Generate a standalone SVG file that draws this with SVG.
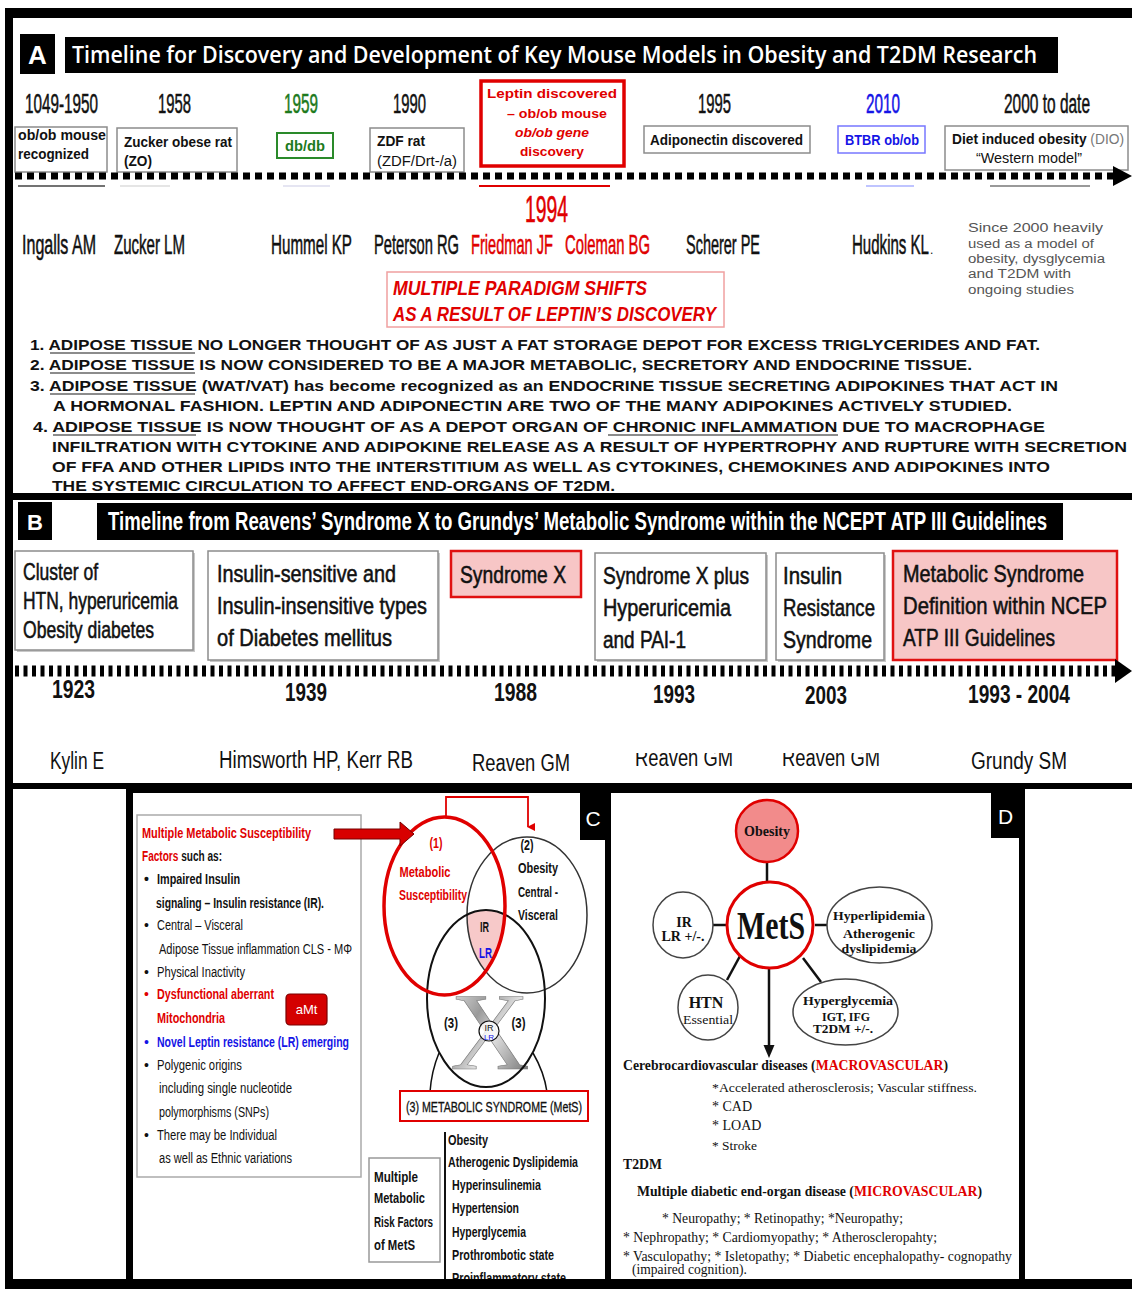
<svg xmlns="http://www.w3.org/2000/svg" width="1132" height="1289" viewBox="0 0 1132 1289">
<defs>
<style>
text{font-family:"Liberation Sans",Arial,sans-serif;fill:#111}
.b{font-weight:bold}
.i{font-style:italic}
.sf{font-family:"Liberation Serif","Times New Roman",serif}
.os{font-family:"Open Sans","Liberation Sans",sans-serif}
.w{fill:#fff}
.red{fill:#e00000}
.blue{fill:#1414e6}
.grn{fill:#1d7a1d}
.gry{fill:#555}
.thk{stroke:#111;stroke-width:0.55}
.thk.red{stroke:#e00000}
.thk.grn{stroke:#1d7a1d}
.thk.blue{stroke:#1414e6}
.box{fill:#fff;stroke:#8c8c8c;stroke-width:1.5}
.shd{fill:#c8c8c8}
.pk{fill:#f7c6c6;stroke:#e01010;stroke-width:2.5}
.frame{fill:#000}
.ul{stroke:#666;stroke-width:1.5}
.conn{fill:none;stroke:#111;stroke-width:2.5}
</style>
<linearGradient id="xg" x1="0" y1="0" x2="1" y2="1">
<stop offset="0" stop-color="#f2f2f2"/>
<stop offset="0.35" stop-color="#9a9a9a"/>
<stop offset="0.55" stop-color="#e0e0e0"/>
<stop offset="1" stop-color="#5a5a5a"/>
</linearGradient>
<marker id="ra" markerWidth="8" markerHeight="8" refX="4" refY="7" orient="auto-start-reverse" markerUnits="userSpaceOnUse" viewBox="0 0 8 8">
<path d="M0,0 L8,0 L4,8 Z" fill="#e00000"/>
</marker>
<clipPath id="cRed"><ellipse cx="444.5" cy="906" rx="60.5" ry="89"/></clipPath>
<clipPath id="c2"><ellipse cx="527" cy="915" rx="60" ry="78"/></clipPath>
<clipPath id="clipRv"><rect x="600" y="753" width="300" height="30"/></clipPath>
</defs>
<rect width="1132" height="1289" fill="#fff"/>

<!-- frame -->
<g id="frame">
<rect class="frame" x="5" y="8" width="1127" height="10"/>
<rect class="frame" x="5" y="8" width="8" height="1281"/>
<rect class="frame" x="5" y="493" width="1127" height="7"/>
<rect class="frame" x="5" y="783" width="1127" height="6"/>
<rect class="frame" x="126" y="783" width="899" height="10"/>
<rect class="frame" x="5" y="1279" width="1127" height="10"/>
<rect class="frame" x="126" y="783" width="7" height="506"/>
<rect class="frame" x="605" y="783" width="6" height="506"/>
<rect class="frame" x="1019" y="783" width="6" height="506"/>
</g>

<!-- PANEL A -->
<g id="A-header">
<rect x="20" y="34" width="35" height="40" fill="#000"/>
<text x="37.5" y="64" text-anchor="middle" font-size="26" class="b w">A</text>
<rect x="65" y="37" width="993" height="36" fill="#000"/>
<text x="72" y="63" font-size="23" class="os w" font-weight="600" textLength="965" lengthAdjust="spacingAndGlyphs">Timeline for Discovery and Development of Key Mouse Models in Obesity and T2DM Research</text>
</g>

<g id="A-years" font-size="28">
<text x="25" y="113" class="thk" textLength="73" lengthAdjust="spacingAndGlyphs">1049-1950</text>
<text x="158" y="113" class="thk" textLength="33" lengthAdjust="spacingAndGlyphs">1958</text>
<text x="284" y="113" class="thk grn" textLength="34" lengthAdjust="spacingAndGlyphs">1959</text>
<text x="393" y="113" class="thk" textLength="33" lengthAdjust="spacingAndGlyphs">1990</text>
<text x="698" y="113" class="thk" textLength="33" lengthAdjust="spacingAndGlyphs">1995</text>
<text x="866" y="113" class="thk blue" textLength="34" lengthAdjust="spacingAndGlyphs">2010</text>
<text x="1004" y="113" class="thk" textLength="86" lengthAdjust="spacingAndGlyphs">2000 to date</text>
</g>

<g id="A-obob">
<rect class="box" x="15" y="127" width="92" height="45"/>
<text x="18" y="140" font-size="14" class="b" fill="#333" textLength="88" lengthAdjust="spacingAndGlyphs">ob/ob mouse</text>
<text x="18" y="159" font-size="14" class="b" fill="#333" textLength="71" lengthAdjust="spacingAndGlyphs">recognized</text>
</g>
<g id="A-zucker">
<rect class="box" x="117" y="128" width="120" height="44"/>
<text x="124" y="147" font-size="14" class="b" fill="#333" textLength="108" lengthAdjust="spacingAndGlyphs">Zucker obese rat</text>
<text x="124" y="166" font-size="14" class="b" fill="#333" textLength="28" lengthAdjust="spacingAndGlyphs">(ZO)</text>
</g>
<g id="A-dbdb">
<rect x="277" y="133" width="56" height="25" fill="#fff" stroke="#2a8a2a" stroke-width="2"/>
<text x="285" y="151" font-size="14" class="b grn" textLength="40" lengthAdjust="spacingAndGlyphs">db/db</text>
</g>
<g id="A-zdf">
<rect class="box" x="370" y="128" width="94" height="44"/>
<text x="377" y="146" font-size="14" class="b" fill="#333" textLength="48" lengthAdjust="spacingAndGlyphs">ZDF rat</text>
<text x="377" y="166" font-size="14" fill="#777" textLength="80" lengthAdjust="spacingAndGlyphs">(ZDF/Drt-/a)</text>
</g>
<g id="A-leptin">
<rect x="481" y="81" width="143" height="85" fill="#fff" stroke="#e00000" stroke-width="3.5"/>
<text x="552" y="98" text-anchor="middle" font-size="13.5" class="b red" textLength="130" lengthAdjust="spacingAndGlyphs">Leptin discovered</text>
<text x="557" y="118" text-anchor="middle" font-size="13.5" class="b red" textLength="100" lengthAdjust="spacingAndGlyphs">– ob/ob mouse</text>
<text x="552" y="137" text-anchor="middle" font-size="13.5" class="b i red" textLength="74" lengthAdjust="spacingAndGlyphs">ob/ob gene</text>
<text x="552" y="156" text-anchor="middle" font-size="13.5" class="b red" textLength="64" lengthAdjust="spacingAndGlyphs">discovery</text>
</g>
<g id="A-adipo">
<rect class="box" x="644" y="126" width="166" height="27"/>
<text x="650" y="145" font-size="14" class="b" fill="#333" textLength="153" lengthAdjust="spacingAndGlyphs">Adiponectin discovered</text>
</g>
<g id="A-btbr">
<rect x="838" y="126" width="87" height="27" fill="#fff" stroke="#7777ff" stroke-width="1.5"/>
<text x="845" y="145" font-size="14" class="b blue" textLength="74" lengthAdjust="spacingAndGlyphs">BTBR ob/ob</text>
</g>
<g id="A-dio">
<rect class="box" x="945" y="126" width="183" height="44"/>
<text x="952" y="144" font-size="14" class="b" fill="#333" textLength="172" lengthAdjust="spacingAndGlyphs">Diet induced obesity<tspan font-weight="normal" fill="#777"> (DIO)</tspan></text>
<text x="976" y="163" font-size="14" fill="#666" textLength="106" lengthAdjust="spacingAndGlyphs">“Western model”</text>
</g>

<g id="A-timeline">
<line x1="15" y1="176" x2="1114" y2="176" stroke="#000" stroke-width="7" stroke-dasharray="7 5"/>
<path d="M1113,166 L1132,176 L1113,186 Z" fill="#000"/>
<line x1="18" y1="186" x2="105" y2="186" stroke="#444" stroke-width="1.5"/>
<line x1="120" y1="186" x2="170" y2="186" stroke="#ddd" stroke-width="1.5"/>
<line x1="283" y1="186" x2="330" y2="186" stroke="#dde" stroke-width="1.5"/>
<line x1="479" y1="186" x2="610" y2="186" stroke="#e00000" stroke-width="2"/>
<line x1="866" y1="186" x2="914" y2="186" stroke="#aab0ff" stroke-width="1.5"/>
<line x1="990" y1="186" x2="1090" y2="186" stroke="#777" stroke-width="1.5"/>
</g>

<g id="A-names" font-size="28">
<text x="525" y="222" font-size="36" class="thk red" textLength="43" lengthAdjust="spacingAndGlyphs">1994</text>
<text x="22" y="254" class="thk" textLength="74" lengthAdjust="spacingAndGlyphs">Ingalls AM</text>
<text x="114" y="254" class="thk" textLength="71" lengthAdjust="spacingAndGlyphs">Zucker LM</text>
<text x="271" y="254" class="thk" textLength="81" lengthAdjust="spacingAndGlyphs">Hummel KP</text>
<text x="374" y="254" class="thk" textLength="85" lengthAdjust="spacingAndGlyphs">Peterson RG</text>
<text x="471" y="254" class="thk red" textLength="82" lengthAdjust="spacingAndGlyphs">Friedman JF</text>
<text x="565" y="254" class="thk red" textLength="85" lengthAdjust="spacingAndGlyphs">Coleman BG</text>
<text x="686" y="254" class="thk" textLength="74" lengthAdjust="spacingAndGlyphs">Scherer PE</text>
<text x="852" y="254" class="thk" textLength="77" lengthAdjust="spacingAndGlyphs">Hudkins KL</text>
<text x="930" y="254" font-size="12" fill="#aaa">.</text>
</g>

<g id="A-since" font-size="12.5">
<text x="968" y="232" class="gry" textLength="135" lengthAdjust="spacingAndGlyphs">Since 2000 heavily</text>
<text x="968" y="248" class="gry" textLength="126" lengthAdjust="spacingAndGlyphs">used as a model of</text>
<text x="968" y="263" class="gry" textLength="137" lengthAdjust="spacingAndGlyphs">obesity, dysglycemia</text>
<text x="968" y="278" class="gry" textLength="103" lengthAdjust="spacingAndGlyphs">and T2DM with</text>
<text x="968" y="294" class="gry" textLength="106" lengthAdjust="spacingAndGlyphs">ongoing studies</text>
</g>

<g id="A-paradigm">
<rect x="387" y="272" width="337" height="55" fill="#fff" stroke="#f0a0a0" stroke-width="1.5"/>
<text x="393" y="295" font-size="20" class="b i red" textLength="254" lengthAdjust="spacingAndGlyphs">MULTIPLE PARADIGM SHIFTS</text>
<text x="393" y="321" font-size="20" class="b i red" textLength="323" lengthAdjust="spacingAndGlyphs">AS A RESULT OF LEPTIN’S DISCOVERY</text>
</g>

<g id="A-list" font-size="15">
<text x="30" y="350" class="b" fill="#1a1a1a" textLength="1010" lengthAdjust="spacingAndGlyphs">1. ADIPOSE TISSUE NO LONGER THOUGHT OF AS JUST  A FAT STORAGE DEPOT FOR EXCESS TRIGLYCERIDES AND FAT.</text>
<text x="30" y="370" class="b" fill="#1a1a1a" textLength="942" lengthAdjust="spacingAndGlyphs">2. ADIPOSE TISSUE IS NOW CONSIDERED TO BE A MAJOR METABOLIC, SECRETORY AND ENDOCRINE TISSUE.</text>
<text x="30" y="391" class="b" fill="#1a1a1a" textLength="1028" lengthAdjust="spacingAndGlyphs">3. ADIPOSE TISSUE (WAT/VAT) has become recognized as an ENDOCRINE TISSUE SECRETING ADIPOKINES THAT ACT IN</text>
<text x="53" y="411" class="b" fill="#1a1a1a" textLength="959" lengthAdjust="spacingAndGlyphs">A HORMONAL FASHION. LEPTIN AND ADIPONECTIN ARE TWO OF THE MANY ADIPOKINES ACTIVELY STUDIED.</text>
<text x="33" y="432" class="b" fill="#1a1a1a" textLength="1012" lengthAdjust="spacingAndGlyphs">4. ADIPOSE TISSUE IS NOW THOUGHT OF AS A DEPOT ORGAN OF CHRONIC INFLAMMATION DUE TO MACROPHAGE</text>
<text x="52" y="452" class="b" fill="#1a1a1a" textLength="1075" lengthAdjust="spacingAndGlyphs">INFILTRATION  WITH CYTOKINE AND ADIPOKINE RELEASE AS A  RESULT OF HYPERTROPHY AND RUPTURE WITH SECRETION</text>
<text x="52" y="472" class="b" fill="#1a1a1a" textLength="998" lengthAdjust="spacingAndGlyphs">OF FFA AND OTHER LIPIDS INTO THE INTERSTITIUM AS WELL AS CYTOKINES, CHEMOKINES AND ADIPOKINES INTO</text>
<text x="52" y="491" class="b" fill="#1a1a1a" textLength="563" lengthAdjust="spacingAndGlyphs">THE SYSTEMIC CIRCULATION TO AFFECT END-ORGANS OF T2DM.</text>
<line class="ul" x1="50" y1="353" x2="195" y2="353"/>
<line class="ul" x1="50" y1="373" x2="195" y2="373"/>
<line class="ul" x1="50" y1="394" x2="195" y2="394"/>
<line class="ul" x1="53" y1="435" x2="196" y2="435"/>
<line class="ul" x1="608" y1="435" x2="838" y2="435"/>
</g>

<!-- PANEL B -->
<g id="B-header">
<rect x="18" y="502" width="34" height="38" fill="#000"/>
<text x="35" y="530" text-anchor="middle" font-size="22" class="b w">B</text>
<rect x="97" y="503" width="966" height="37" fill="#000"/>
<text x="108" y="530" font-size="25" class="b w" textLength="939" lengthAdjust="spacingAndGlyphs">Timeline from Reavens’  Syndrome X  to Grundys’  Metabolic Syndrome within the NCEPT ATP III Guidelines</text>
</g>

<g id="B-cluster" font-size="24">
<rect class="shd" x="17" y="553" width="178" height="99"/>
<rect class="box" x="15" y="551" width="178" height="99"/>
<text x="23" y="580" class="thk" textLength="75" lengthAdjust="spacingAndGlyphs">Cluster of</text>
<text x="23" y="609" class="thk" textLength="155" lengthAdjust="spacingAndGlyphs">HTN, hyperuricemia</text>
<text x="23" y="638" class="thk" textLength="131" lengthAdjust="spacingAndGlyphs">Obesity diabetes</text>
</g>
<g id="B-insulin" font-size="24">
<rect class="shd" x="210" y="553" width="230" height="109"/>
<rect class="box" x="208" y="551" width="230" height="109"/>
<text x="217" y="582" class="thk" textLength="179" lengthAdjust="spacingAndGlyphs">Insulin-sensitive and</text>
<text x="217" y="614" class="thk" textLength="210" lengthAdjust="spacingAndGlyphs">Insulin-insensitive types</text>
<text x="217" y="646" class="thk" textLength="175" lengthAdjust="spacingAndGlyphs">of Diabetes mellitus</text>
</g>
<g id="B-synx" font-size="24">
<rect class="pk" x="451" y="551" width="130" height="46"/>
<text x="460" y="583" class="thk" textLength="106" lengthAdjust="spacingAndGlyphs">Syndrome X</text>
</g>
<g id="B-synxplus" font-size="24">
<rect class="shd" x="597" y="555" width="171" height="107"/>
<rect class="box" x="595" y="553" width="171" height="107"/>
<text x="603" y="584" class="thk" textLength="146" lengthAdjust="spacingAndGlyphs">Syndrome X plus</text>
<text x="603" y="616" class="thk" textLength="128" lengthAdjust="spacingAndGlyphs">Hyperuricemia</text>
<text x="603" y="648" class="thk" textLength="83" lengthAdjust="spacingAndGlyphs">and PAI-1</text>
</g>
<g id="B-irs" font-size="24">
<rect class="shd" x="778" y="555" width="108" height="107"/>
<rect class="box" x="776" y="553" width="108" height="107"/>
<text x="783" y="584" class="thk" textLength="59" lengthAdjust="spacingAndGlyphs">Insulin</text>
<text x="783" y="616" class="thk" textLength="92" lengthAdjust="spacingAndGlyphs">Resistance</text>
<text x="783" y="648" class="thk" textLength="89" lengthAdjust="spacingAndGlyphs">Syndrome</text>
</g>
<g id="B-mets" font-size="24">
<rect class="pk" x="893" y="551" width="224" height="109"/>
<text x="903" y="582" class="thk" textLength="181" lengthAdjust="spacingAndGlyphs">Metabolic Syndrome</text>
<text x="903" y="614" class="thk" textLength="204" lengthAdjust="spacingAndGlyphs">Definition within  NCEP</text>
<text x="903" y="646" class="thk" textLength="152" lengthAdjust="spacingAndGlyphs">ATP III Guidelines</text>
</g>

<g id="B-timeline">
<line x1="15" y1="671" x2="1115" y2="671" stroke="#000" stroke-width="11" stroke-dasharray="4 4.5"/>
<path d="M1115,659 L1132,671 L1115,683 Z" fill="#000"/>
</g>

<g id="B-years" font-size="25">
<text x="52" y="698" class="b" textLength="43" lengthAdjust="spacingAndGlyphs">1923</text>
<text x="285" y="701" class="b" textLength="42" lengthAdjust="spacingAndGlyphs">1939</text>
<text x="494" y="701" class="b" textLength="43" lengthAdjust="spacingAndGlyphs">1988</text>
<text x="653" y="703" class="b" textLength="42" lengthAdjust="spacingAndGlyphs">1993</text>
<text x="805" y="704" class="b" textLength="42" lengthAdjust="spacingAndGlyphs">2003</text>
<text x="968" y="703" class="b" textLength="102" lengthAdjust="spacingAndGlyphs">1993 - 2004</text>
</g>

<g id="B-names" font-size="23">
<text x="50" y="769" fill="#333" textLength="54" lengthAdjust="spacingAndGlyphs">Kylin E</text>
<text x="219" y="768" fill="#333" textLength="194" lengthAdjust="spacingAndGlyphs">Himsworth HP, Kerr RB</text>
<text x="472" y="771" fill="#333" textLength="98" lengthAdjust="spacingAndGlyphs">Reaven GM</text>
<g clip-path="url(#clipRv)">
<text x="635" y="766" fill="#333" textLength="98" lengthAdjust="spacingAndGlyphs">Reaven GM</text>
<text x="782" y="766" fill="#333" textLength="98" lengthAdjust="spacingAndGlyphs">Reaven GM</text>
</g>
<text x="971" y="769" fill="#333" textLength="96" lengthAdjust="spacingAndGlyphs">Grundy SM</text>
</g>

<!-- PANEL C -->
<g id="C-label">
<rect x="580" y="793" width="26" height="47" fill="#000"/>
<text x="593" y="826" text-anchor="middle" font-size="21" class="w">C</text>
</g>

<g id="C-factors" font-size="14">
<rect x="137" y="815" width="224" height="362" fill="#fff" stroke="#aaa" stroke-width="1.5"/>
<text x="142" y="838" class="b red" textLength="169" lengthAdjust="spacingAndGlyphs">Multiple Metabolic Susceptibility</text>
<text x="142" y="861" class="b" textLength="80" lengthAdjust="spacingAndGlyphs"><tspan class="red">Factors</tspan> such as:</text>
<text x="144" y="884" class="b">•</text>
<text x="157" y="884" class="b" textLength="83" lengthAdjust="spacingAndGlyphs">Impaired Insulin</text>
<text x="156" y="908" class="b" textLength="168" lengthAdjust="spacingAndGlyphs">signaling – Insulin resistance (IR).</text>
<text x="144" y="930" fill="#444">•</text>
<text x="157" y="930" fill="#444" textLength="86" lengthAdjust="spacingAndGlyphs">Central – Visceral</text>
<text x="159" y="954" fill="#444" textLength="193" lengthAdjust="spacingAndGlyphs">Adipose Tissue inflammation CLS - MΦ</text>
<text x="144" y="977" fill="#444">•</text>
<text x="157" y="977" fill="#444" textLength="88" lengthAdjust="spacingAndGlyphs">Physical Inactivity</text>
<text x="144" y="999" class="red">•</text>
<text x="157" y="999" class="b red" textLength="117" lengthAdjust="spacingAndGlyphs">Dysfunctional aberrant</text>
<text x="157" y="1023" class="b red" textLength="68" lengthAdjust="spacingAndGlyphs">Mitochondria</text>
<text x="144" y="1047" class="blue">•</text>
<text x="157" y="1047" class="b blue" textLength="192" lengthAdjust="spacingAndGlyphs">Novel Leptin resistance (LR) emerging</text>
<text x="144" y="1070" fill="#444">•</text>
<text x="157" y="1070" fill="#444" textLength="85" lengthAdjust="spacingAndGlyphs">Polygenic origins</text>
<text x="159" y="1093" fill="#444" textLength="133" lengthAdjust="spacingAndGlyphs">including single nucleotide</text>
<text x="159" y="1117" fill="#444" textLength="110" lengthAdjust="spacingAndGlyphs">polymorphisms (SNPs)</text>
<text x="144" y="1140" fill="#444">•</text>
<text x="157" y="1140" fill="#444" textLength="120" lengthAdjust="spacingAndGlyphs">There may be Individual</text>
<text x="159" y="1163" fill="#444" textLength="133" lengthAdjust="spacingAndGlyphs">as well as Ethnic variations</text>
</g>
<g id="C-amt">
<rect x="286" y="994" width="41" height="31" rx="4" fill="#d40000" stroke="#7a0000" stroke-width="1.2"/>
<text x="306.5" y="1014" text-anchor="middle" font-size="13" class="w">aMt</text>
</g>

<g id="C-venn">
<g clip-path="url(#cRed)"><g clip-path="url(#c2)"><ellipse cx="486" cy="998.5" rx="59" ry="88.5" fill="#f7c9c9"/></g></g>
<text x="490" y="1069" font-size="110" text-anchor="middle" class="sf" stroke="#777" stroke-width="0.6" style="fill:url(#xg)">X</text>
<ellipse cx="527" cy="915" rx="60" ry="78" fill="none" stroke="#333" stroke-width="1.5"/>
<ellipse cx="486" cy="998.5" rx="59" ry="88.5" fill="none" stroke="#111" stroke-width="2"/>
<ellipse cx="444.5" cy="906" rx="60.5" ry="89" fill="none" stroke="#e00000" stroke-width="3.5"/>
<circle cx="489" cy="1031" r="10" fill="#fff" fill-opacity="0.8" stroke="#111" stroke-width="1.2"/>
<text x="489" y="1031" text-anchor="middle" font-size="9" fill="#666">IR</text>
<text x="489" y="1040" text-anchor="middle" font-size="8" class="blue">LR</text>
<text x="436" y="848" text-anchor="middle" font-size="14" class="b red" textLength="13" lengthAdjust="spacingAndGlyphs">(1)</text>
<text x="425" y="877" text-anchor="middle" font-size="14" class="b red" textLength="51" lengthAdjust="spacingAndGlyphs">Metabolic</text>
<text x="433" y="900" text-anchor="middle" font-size="14" class="b red" textLength="68" lengthAdjust="spacingAndGlyphs">Susceptibility</text>
<text x="527" y="850" text-anchor="middle" font-size="14" class="b" textLength="13" lengthAdjust="spacingAndGlyphs">(2)</text>
<text x="538" y="873" text-anchor="middle" font-size="14" class="b" textLength="40" lengthAdjust="spacingAndGlyphs">Obesity</text>
<text x="538" y="897" text-anchor="middle" font-size="14" class="b" textLength="40" lengthAdjust="spacingAndGlyphs">Central -</text>
<text x="538" y="920" text-anchor="middle" font-size="14" class="b" textLength="40" lengthAdjust="spacingAndGlyphs">Visceral</text>
<text x="484.5" y="932" text-anchor="middle" font-size="14" class="b" textLength="9" lengthAdjust="spacingAndGlyphs">IR</text>
<text x="485.5" y="958" text-anchor="middle" font-size="14" class="b blue" textLength="13" lengthAdjust="spacingAndGlyphs">LR</text>
<text x="451" y="1028" text-anchor="middle" font-size="14" class="b" textLength="14" lengthAdjust="spacingAndGlyphs">(3)</text>
<text x="518.5" y="1028" text-anchor="middle" font-size="14" class="b" textLength="14" lengthAdjust="spacingAndGlyphs">(3)</text>
</g>

<g id="connectors">
<path d="M334,829 L400,829 L400,822 L414,834 L400,846 L400,839 L334,839 Z" fill="#d80000" stroke="#700" stroke-width="1"/>
<path d="M446,818 V797 H528 V827" fill="none" stroke="#e00000" stroke-width="1.8" marker-end="url(#ra)"/>
<path d="M439,1053 C434,1065 431,1078 430,1092" fill="none" stroke="#111" stroke-width="1.5"/>
<path d="M533,1053 C540,1065 545,1078 547,1092" fill="none" stroke="#111" stroke-width="1.5"/>
<line class="conn" x1="767" y1="862" x2="767" y2="883"/>
<line class="conn" x1="713" y1="925" x2="727" y2="925"/>
<line class="conn" x1="815" y1="925" x2="827" y2="925"/>
<line class="conn" x1="740" y1="956" x2="727" y2="980"/>
<line class="conn" x1="803" y1="958" x2="821" y2="982"/>
<line class="conn" x1="769" y1="968" x2="769" y2="1046"/>
<path d="M763.5,1045 L774.5,1045 L769,1058 Z" fill="#111"/>
</g>

<g id="C-mets">
<rect x="400" y="1091" width="188" height="30" fill="#fff" stroke="#e00000" stroke-width="2"/>
<text x="494" y="1112" text-anchor="middle" font-size="14" class="thk" textLength="176" lengthAdjust="spacingAndGlyphs" style="stroke-width:0.3">(3) METABOLIC SYNDROME (MetS)</text>
</g>

<g id="C-risk" font-size="14">
<rect x="369" y="1158" width="71" height="104" fill="#fff" stroke="#999" stroke-width="1.5"/>
<text x="374" y="1182" class="b" fill="#222" textLength="44" lengthAdjust="spacingAndGlyphs">Multiple</text>
<text x="374" y="1203" class="b" fill="#222" textLength="51" lengthAdjust="spacingAndGlyphs">Metabolic</text>
<text x="374" y="1227" class="b" fill="#222" textLength="59" lengthAdjust="spacingAndGlyphs">Risk Factors</text>
<text x="374" y="1250" class="b" fill="#222" textLength="41" lengthAdjust="spacingAndGlyphs">of MetS</text>
</g>

<g id="C-list" font-size="14">
<line x1="445" y1="1132" x2="445" y2="1279" stroke="#111" stroke-width="2"/>
<text x="448" y="1145" class="b" fill="#222" textLength="40" lengthAdjust="spacingAndGlyphs">Obesity</text>
<text x="448" y="1167" class="b" fill="#222" textLength="130" lengthAdjust="spacingAndGlyphs">Atherogenic Dyslipidemia</text>
<text x="452" y="1190" class="b" fill="#222" textLength="89" lengthAdjust="spacingAndGlyphs">Hyperinsulinemia</text>
<text x="452" y="1213" class="b" fill="#222" textLength="67" lengthAdjust="spacingAndGlyphs">Hypertension</text>
<text x="452" y="1237" class="b" fill="#222" textLength="74" lengthAdjust="spacingAndGlyphs">Hyperglycemia</text>
<text x="452" y="1260" class="b" fill="#222" textLength="102" lengthAdjust="spacingAndGlyphs">Prothrombotic state</text>
<text x="452" y="1283" class="b" fill="#222" textLength="114" lengthAdjust="spacingAndGlyphs">Proinflammatory state</text>
</g>
<rect class="frame" x="126" y="1279" width="899" height="10"/>

<!-- PANEL D -->
<g id="D-label">
<rect x="991" y="788" width="29" height="50" fill="#000"/>
<text x="1005.5" y="824" text-anchor="middle" font-size="21" class="w">D</text>
</g>
<g id="D-obesity">
<circle cx="767" cy="831" r="31" fill="#f28b8b" stroke="#e00000" stroke-width="2.5"/>
<text x="767" y="836" text-anchor="middle" font-size="14" class="sf b">Obesity</text>
</g>
<g id="D-mets">
<circle cx="770" cy="925" r="43" fill="#fff" stroke="#e00000" stroke-width="3"/>
<text x="771" y="939" text-anchor="middle" font-size="40" class="sf b" textLength="68" lengthAdjust="spacingAndGlyphs">MetS</text>
</g>
<g id="D-irlr">
<ellipse cx="683" cy="925" rx="30" ry="33" fill="#fff" stroke="#444" stroke-width="1.5"/>
<text x="684" y="927" text-anchor="middle" font-size="14" class="sf b">IR</text>
<text x="683" y="941" text-anchor="middle" font-size="14" class="sf b">LR +/-.</text>
</g>
<g id="D-hyperlip">
<ellipse cx="879.5" cy="925" rx="52.5" ry="38" fill="#fff" stroke="#444" stroke-width="1.5"/>
<text x="879" y="920" text-anchor="middle" font-size="13.5" class="sf b" textLength="92" lengthAdjust="spacingAndGlyphs">Hyperlipidemia</text>
<text x="879" y="938" text-anchor="middle" font-size="13.5" class="sf b" textLength="72" lengthAdjust="spacingAndGlyphs">Atherogenic</text>
<text x="879" y="953" text-anchor="middle" font-size="13.5" class="sf b" textLength="75" lengthAdjust="spacingAndGlyphs">dyslipidemia</text>
</g>
<g id="D-htn">
<ellipse cx="708" cy="1007.5" rx="30" ry="32.5" fill="#fff" stroke="#444" stroke-width="1.5"/>
<text x="706" y="1008" text-anchor="middle" font-size="16" class="sf b">HTN</text>
<text x="708" y="1024" text-anchor="middle" font-size="13" class="sf" fill="#555" textLength="50" lengthAdjust="spacingAndGlyphs">Essential</text>
</g>
<g id="D-hyperglyc">
<ellipse cx="845.5" cy="1012" rx="52.5" ry="33" fill="#fff" stroke="#444" stroke-width="1.5"/>
<text x="848" y="1005" text-anchor="middle" font-size="13" class="sf b" textLength="90" lengthAdjust="spacingAndGlyphs">Hyperglycemia</text>
<text x="846" y="1021" text-anchor="middle" font-size="13" class="sf b" textLength="48" lengthAdjust="spacingAndGlyphs">IGT, IFG</text>
<text x="843" y="1033" text-anchor="middle" font-size="13" class="sf b" textLength="60" lengthAdjust="spacingAndGlyphs">T2DM +/-.</text>
</g>

<g id="D-text" font-size="14.5">
<text x="623" y="1070" class="sf b" textLength="325" lengthAdjust="spacingAndGlyphs">Cerebrocardiovascular diseases (<tspan class="red">MACROVASCULAR</tspan>)</text>
<text x="712" y="1092" class="sf" fill="#444" font-size="13.5" textLength="265" lengthAdjust="spacingAndGlyphs">*Accelerated atherosclerosis; Vascular stiffness.</text>
<text x="712" y="1111" class="sf" fill="#444" font-size="14">* CAD</text>
<text x="712" y="1130" class="sf" fill="#444" font-size="14">* LOAD</text>
<text x="712" y="1150" class="sf" fill="#444" font-size="13.5" textLength="45" lengthAdjust="spacingAndGlyphs">* Stroke</text>
<text x="623" y="1169" class="sf b" textLength="39" lengthAdjust="spacingAndGlyphs">T2DM</text>
<text x="637" y="1196" class="sf b" textLength="345" lengthAdjust="spacingAndGlyphs">Multiple diabetic end-organ disease (<tspan class="red">MICROVASCULAR</tspan>)</text>
<text x="662" y="1223" class="sf" fill="#333" font-size="14" textLength="241" lengthAdjust="spacingAndGlyphs">* Neuropathy; * Retinopathy; *Neuropathy;</text>
<text x="623" y="1242" class="sf" fill="#333" font-size="14" textLength="314" lengthAdjust="spacingAndGlyphs">* Nephropathy; * Cardiomyopathy; * Atheroscleropahty;</text>
<text x="623" y="1261" class="sf" fill="#333" font-size="14" textLength="389" lengthAdjust="spacingAndGlyphs">* Vasculopathy; * Isletopathy; * Diabetic encephalopathy- cognopathy</text>
<text x="632" y="1274" class="sf" fill="#333" font-size="14" textLength="115" lengthAdjust="spacingAndGlyphs">(impaired cognition).</text>
</g>
</svg>
